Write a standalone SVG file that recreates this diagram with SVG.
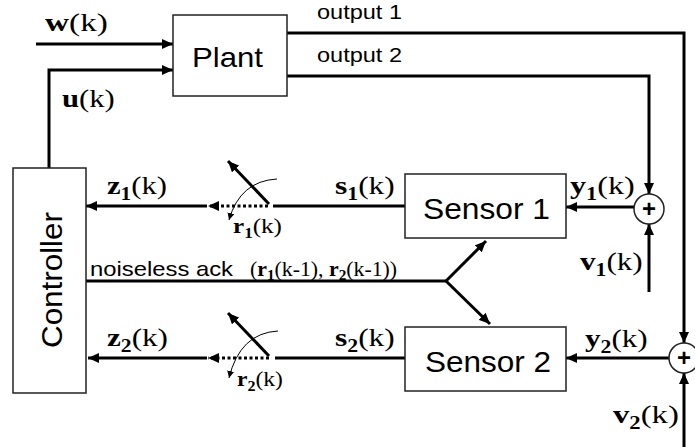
<svg xmlns="http://www.w3.org/2000/svg" width="695" height="447" viewBox="0 0 695 447">
<style>
.box{fill:#fff;stroke:#222;stroke-width:1.5}
.ln{fill:none;stroke:#000;stroke-width:3}
.dot{fill:none;stroke:#000;stroke-width:3;stroke-dasharray:3 2.5}
.thin{fill:none;stroke:#000;stroke-width:1}
.sans{font-family:"Liberation Sans",Arial,sans-serif;fill:#000}
.math{font-family:"Liberation Serif","Times New Roman",serif;fill:#000}
.b{font-weight:bold}
.sum{fill:#fff;stroke:#222;stroke-width:1.5}
</style>
<defs>
<marker id="ah" markerUnits="userSpaceOnUse" markerWidth="12" markerHeight="10" refX="11" refY="5" orient="auto">
<path d="M0,0 L11,5 L0,10 Z" fill="#000"/>
</marker>
<marker id="ahs" markerUnits="userSpaceOnUse" markerWidth="8" markerHeight="7" refX="7" refY="3.5" orient="auto">
<path d="M0,0 L7,3.5 L0,7 Z" fill="#000"/>
</marker>
</defs>

<g id="connectors">
<path class="ln" d="M36,44 H173" marker-end="url(#ah)"/>
<path class="ln" d="M49,168 V70 H173" marker-end="url(#ah)"/>
<path class="ln" d="M287,33 H684 V343" marker-end="url(#ah)"/>
<path class="ln" d="M287,76 H649 V194" marker-end="url(#ah)"/>
<path class="ln" d="M649,292 V224" marker-end="url(#ah)"/>
<path class="ln" d="M634,207 H566" marker-end="url(#ah)"/>
<path class="ln" d="M684,447 V373" marker-end="url(#ah)"/>
<path class="ln" d="M669,358 H566" marker-end="url(#ah)"/>
<path class="ln" d="M405,206 H273"/>
<path class="dot" d="M268,206 H208" marker-end="url(#ah)"/>
<path class="ln" d="M207,206 H86" marker-end="url(#ah)"/>
<path class="ln" d="M269,204 L228,161" marker-end="url(#ah)"/>
<path class="thin" d="M277,179 Q240,181 229,220" marker-end="url(#ahs)"/>
<path class="ln" d="M405,358 H275"/>
<path class="dot" d="M269,358 H208" marker-end="url(#ah)"/>
<path class="ln" d="M207,358 H88" marker-end="url(#ah)"/>
<path class="ln" d="M269,356 L228,313" marker-end="url(#ah)"/>
<path class="thin" d="M278,331 Q240,333 229,378" marker-end="url(#ahs)"/>
<path class="ln" d="M86,281 H446"/>
<path class="ln" d="M446,281 L486,241" marker-end="url(#ah)"/>
<path class="ln" d="M446,281 L490,324" marker-end="url(#ah)"/>
</g>

<g id="plant">
<rect class="box" x="173" y="15" width="114" height="81"/>
<text class="sans" x="192" y="67" font-size="28" textLength="71" lengthAdjust="spacingAndGlyphs">Plant</text>
</g>
<g id="controller">
<rect class="box" x="13" y="168" width="73" height="225"/>
<text class="sans" font-size="30" text-anchor="middle" transform="translate(62,280) rotate(-90)" textLength="136" lengthAdjust="spacingAndGlyphs">Controller</text>
</g>
<g id="sensor1">
<rect class="box" x="405" y="174" width="161" height="64"/>
<text class="sans" x="423" y="219" font-size="30" textLength="127" lengthAdjust="spacingAndGlyphs">Sensor 1</text>
</g>
<g id="sensor2">
<rect class="box" x="405" y="327" width="161" height="64"/>
<text class="sans" x="425" y="372" font-size="30" textLength="126" lengthAdjust="spacingAndGlyphs">Sensor 2</text>
</g>
<g id="sum1">
<circle class="sum" cx="649" cy="209" r="15"/>
<text class="sans b" x="649" y="217" font-size="24" text-anchor="middle">+</text>
</g>
<g id="sum2">
<circle class="sum" cx="684" cy="358" r="15"/>
<text class="sans b" x="684" y="366" font-size="24" text-anchor="middle">+</text>
</g>

<g id="labels">
<text class="sans" x="317" y="19" font-size="21" textLength="85" lengthAdjust="spacingAndGlyphs">output 1</text>
<text class="sans" x="317" y="62" font-size="21" textLength="85" lengthAdjust="spacingAndGlyphs">output 2</text>
<text class="sans" x="90" y="276" font-size="21" textLength="143" lengthAdjust="spacingAndGlyphs">noiseless ack</text>
<text class="math" font-size="20" transform="translate(250,276) scale(1.09,1)">(<tspan class="b">r</tspan><tspan class="b" font-size="14" dy="4">1</tspan><tspan dy="-4">(k-1), </tspan><tspan class="b">r</tspan><tspan class="b" font-size="14" dy="4">2</tspan><tspan dy="-4">(k-1))</tspan></text>
<text class="math" font-size="26" transform="translate(45,31) scale(1.28,1)"><tspan class="b">w</tspan>(k)</text>
<text class="math" font-size="26" transform="translate(62,107) scale(1.18,1)"><tspan class="b">u</tspan>(k)</text>
<text class="math" font-size="26" transform="translate(107,194) scale(1.18,1)"><tspan class="b">z</tspan><tspan class="b" font-size="18" dy="6">1</tspan><tspan dy="-6">(k)</tspan></text>
<text class="math" font-size="26" transform="translate(335,194) scale(1.21,1)"><tspan class="b">s</tspan><tspan class="b" font-size="18" dy="6">1</tspan><tspan dy="-6">(k)</tspan></text>
<text class="math" font-size="26" transform="translate(570,194) scale(1.24,1)"><tspan class="b">y</tspan><tspan class="b" font-size="18" dy="6">1</tspan><tspan dy="-6">(k)</tspan></text>
<text class="math" font-size="26" transform="translate(580,270) scale(1.2,1)"><tspan class="b">v</tspan><tspan class="b" font-size="18" dy="6">1</tspan><tspan dy="-6">(k)</tspan></text>
<text class="math" font-size="22" transform="translate(233,233) scale(1.14,1)"><tspan class="b">r</tspan><tspan class="b" font-size="15" dy="5">1</tspan><tspan dy="-5">(k)</tspan></text>
<text class="math" font-size="26" transform="translate(107,346) scale(1.2,1)"><tspan class="b">z</tspan><tspan class="b" font-size="18" dy="6">2</tspan><tspan dy="-6">(k)</tspan></text>
<text class="math" font-size="26" transform="translate(335,346) scale(1.21,1)"><tspan class="b">s</tspan><tspan class="b" font-size="18" dy="6">2</tspan><tspan dy="-6">(k)</tspan></text>
<text class="math" font-size="26" transform="translate(585,347) scale(1.2,1)"><tspan class="b">y</tspan><tspan class="b" font-size="18" dy="6">2</tspan><tspan dy="-6">(k)</tspan></text>
<text class="math" font-size="26" transform="translate(613,423) scale(1.26,1)"><tspan class="b">v</tspan><tspan class="b" font-size="18" dy="6">2</tspan><tspan dy="-6">(k)</tspan></text>
<text class="math" font-size="22" transform="translate(237,386) scale(1.07,1)"><tspan class="b">r</tspan><tspan class="b" font-size="15" dy="5">2</tspan><tspan dy="-5">(k)</tspan></text>
</g>
</svg>
